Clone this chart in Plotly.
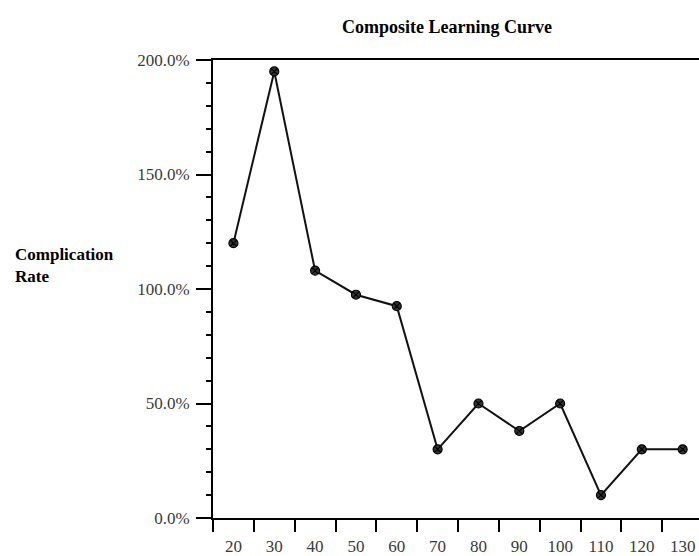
import plotly.graph_objects as go

cases = [20, 30, 40, 50, 60, 70, 80, 90, 100, 110, 120, 130]
complication_rate = [120, 195, 108, 97.5, 92.5, 30, 50, 38, 50, 10, 30, 30]
x_tick_labels = [str(c) for c in cases]
y_tick_values = [0, 50, 100, 150, 200]

FONT = "Liberation Serif"

fig = go.Figure()
fig.add_trace(go.Scatter(
    x=cases, y=complication_rate, mode="lines+markers",
    line=dict(color="#111", width=2),
    marker=dict(symbol="circle-x", size=9, color="#333",
                line=dict(color="#000", width=1.2)),
    showlegend=False, cliponaxis=False,
))

fig.update_layout(
    width=699, height=556,
    margin=dict(l=213, r=0, t=60, b=38),
    paper_bgcolor="white", plot_bgcolor="white",
    font=dict(family=FONT, size=17, color="#333"),
    title=dict(text="<b>Composite Learning Curve</b>", x=447 / 699, xanchor="center",
               y=1 - 27 / 556, yanchor="middle",
               font=dict(family=FONT, size=18, color="#000")),
    xaxis=dict(
        range=[15, 134], tickmode="array", tickvals=cases, ticktext=x_tick_labels,
        ticks="", showgrid=False, zeroline=False, ticklabelstandoff=12,
        showline=True, linecolor="#000", linewidth=2, mirror=True,
        minor=dict(tick0=15, dtick=10, ticks="outside", ticklen=12,
                   tickwidth=1.5, tickcolor="#000", showgrid=False),
        tickfont=dict(family=FONT, size=17, color="#3a3a3a"),
    ),
    yaxis=dict(
        range=[0, 200], tickmode="array", tickvals=y_tick_values,
        ticktext=[f"{v:.1f}%" for v in y_tick_values],
        ticks="outside", ticklen=15, tickwidth=2, tickcolor="#000",
        showgrid=False, zeroline=False, ticklabelstandoff=3,
        showline=True, linecolor="#000", linewidth=2,
        minor=dict(dtick=10, ticks="outside", ticklen=5, tickwidth=1.5,
                   tickcolor="#000", showgrid=False),
        tickfont=dict(family=FONT, size=17, color="#3a3a3a"),
    ),
    annotations=[dict(
        text="<b>Complication<br>Rate</b>", xref="paper", yref="paper",
        x=-(213 - 13) / (699 - 213), y=(518 - 265) / 458, xanchor="left", yanchor="middle",
        align="left", showarrow=False,
        font=dict(family=FONT, size=17, color="#000"),
    )],
)

fig.write_html(
    "out.html",
    config={"displayModeBar": False},
    post_script="document.body.style.margin='0';document.body.style.overflow='hidden';",
)
